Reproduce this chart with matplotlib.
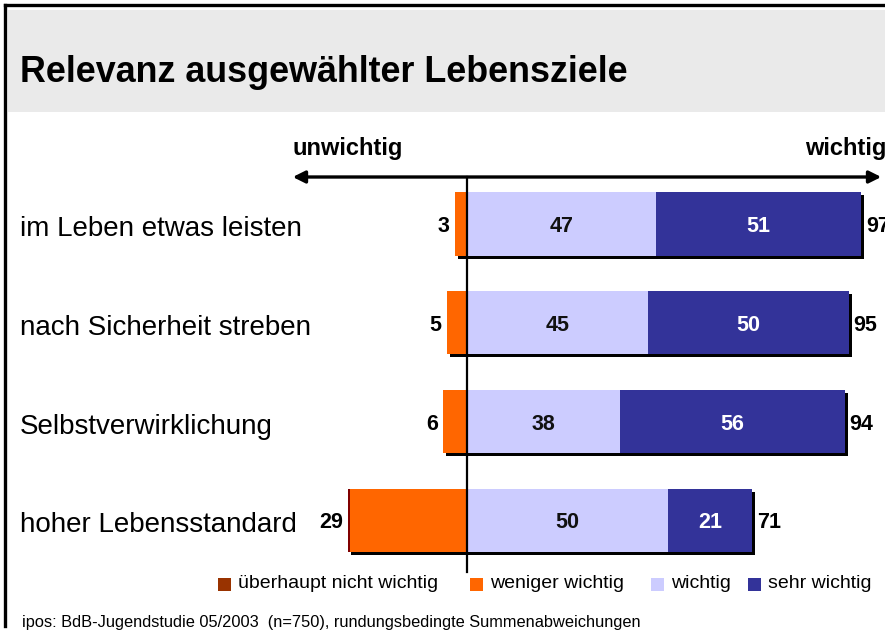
import matplotlib
matplotlib.use("Agg")
import matplotlib.pyplot as plt
from matplotlib.patches import Rectangle, FancyArrowPatch

plt.rcParams['font.family'] = ['Liberation Sans', 'DejaVu Sans']

categories = ["im Leben etwas leisten", "nach Sicherheit streben",
              "Selbstverwirklichung", "hoher Lebensstandard"]
ueberhaupt = [0, 0, 0, 0.6]
weniger = [3, 5, 6, 29]
wichtig = [47, 45, 38, 50]
sehr = [51, 50, 56, 21]
totals = [97, 95, 94, 71]
legend_labels = ["überhaupt nicht wichtig", "weniger wichtig", "wichtig", "sehr wichtig"]
colors = ["#993300", "#FF6600", "#CCCCFF", "#333399"]

W, H = 885, 634
fig = plt.figure(figsize=(W / 100, H / 100), dpi=100)

def fx(x):
    return x / W

def fy(y):
    return 1 - y / H

# background frame and title band
fig.patches.append(Rectangle((fx(8), fy(112)), 1, 102 / H, transform=fig.transFigure,
                             facecolor="#EAEAEA", edgecolor="none", zorder=0))
fig.add_artist(plt.Line2D([fx(4.5), fx(4.5)], [fy(4.5), fy(626)], color="black", lw=2.4))
fig.add_artist(plt.Line2D([fx(4.5), 1], [fy(4.5), fy(4.5)], color="black", lw=2.4))
fig.text(fx(20), fy(73), "Relevanz ausgewählter Lebensziele", fontsize=25.8,
         fontweight="bold", va="center", ha="left")

# axes in value units: x_px = 467 + 4.02 * v, rows 98.8 px apart
px_per = 4.02
row0, row_gap = 224, 98.8
ax = fig.add_axes([0, 0, 1, 1])
ax.set_xlim(-467 / px_per, (W - 467) / px_per)
ax.set_ylim((H - row0) / row_gap, -row0 / row_gap)
ax.axis("off")

bh = 0.64
sdx, sdy = 3 / px_per, 3 / row_gap
for i in range(len(categories)):
    left = -(weniger[i] + ueberhaupt[i])
    right = wichtig[i] + sehr[i]
    ty = i + 0.025
    # shadow
    ax.barh(i + sdy, right - left, left=left + sdx, height=bh, color="black", zorder=1)
    ax.barh(i, ueberhaupt[i], left=left, height=bh, color="#800000", zorder=2)
    ax.barh(i, weniger[i], left=-weniger[i], height=bh, color=colors[1], zorder=2)
    ax.barh(i, wichtig[i], left=0, height=bh, color=colors[2], zorder=2)
    ax.barh(i, sehr[i], left=wichtig[i], height=bh, color=colors[3], zorder=2)
    ax.text(wichtig[i] / 2, ty, str(wichtig[i]), ha="center", va="center",
            fontsize=15.5, fontweight="bold", color="#111111", zorder=3)
    ax.text(wichtig[i] + sehr[i] / 2, ty, str(sehr[i]), ha="center", va="center",
            fontsize=15.5, fontweight="bold", color="white", zorder=3)
    ax.text(left - 1.3, ty, str(weniger[i]), ha="right", va="center",
            fontsize=15.5, fontweight="bold", zorder=3)
    ax.text(right + 1.2, ty, str(totals[i]), ha="left", va="center",
            fontsize=15.5, fontweight="bold", zorder=3)
    ax.text(-447 / px_per, i + 0.05, categories[i], ha="left", va="center", fontsize=20, zorder=3)

# center line
ax.plot([0, 0], [(177 - row0) / row_gap, (572 - row0) / row_gap], color="black", lw=1.6, zorder=4)

# arrow
arr = FancyArrowPatch((fx(290), fy(177)), (fx(884), fy(177)), transform=fig.transFigure,
                      arrowstyle="<|-|>", mutation_scale=18, color="black", lw=2.4)
fig.add_artist(arr)
fig.text(fx(293), fy(148), "unwichtig", fontsize=17, fontweight="bold", ha="left", va="center")
fig.text(fx(805), fy(148), "wichtig", fontsize=17, fontweight="bold", ha="left", va="center")

# legend
leg_x = [218, 470, 651, 748]
for lx, lab, c in zip(leg_x, legend_labels, colors):
    fig.patches.append(Rectangle((fx(lx), fy(591)), 13 / W, 13 / H, transform=fig.transFigure,
                                 facecolor=c, edgecolor="none"))
    fig.text(fx(lx + 20), fy(584), lab, fontsize=14, ha="left", va="center")

fig.text(fx(22), fy(622), "ipos: BdB-Jugendstudie 05/2003  (n=750), rundungsbedingte Summenabweichungen",
         fontsize=11.8, ha="left", va="center")

fig.savefig("out.png", dpi=100)
